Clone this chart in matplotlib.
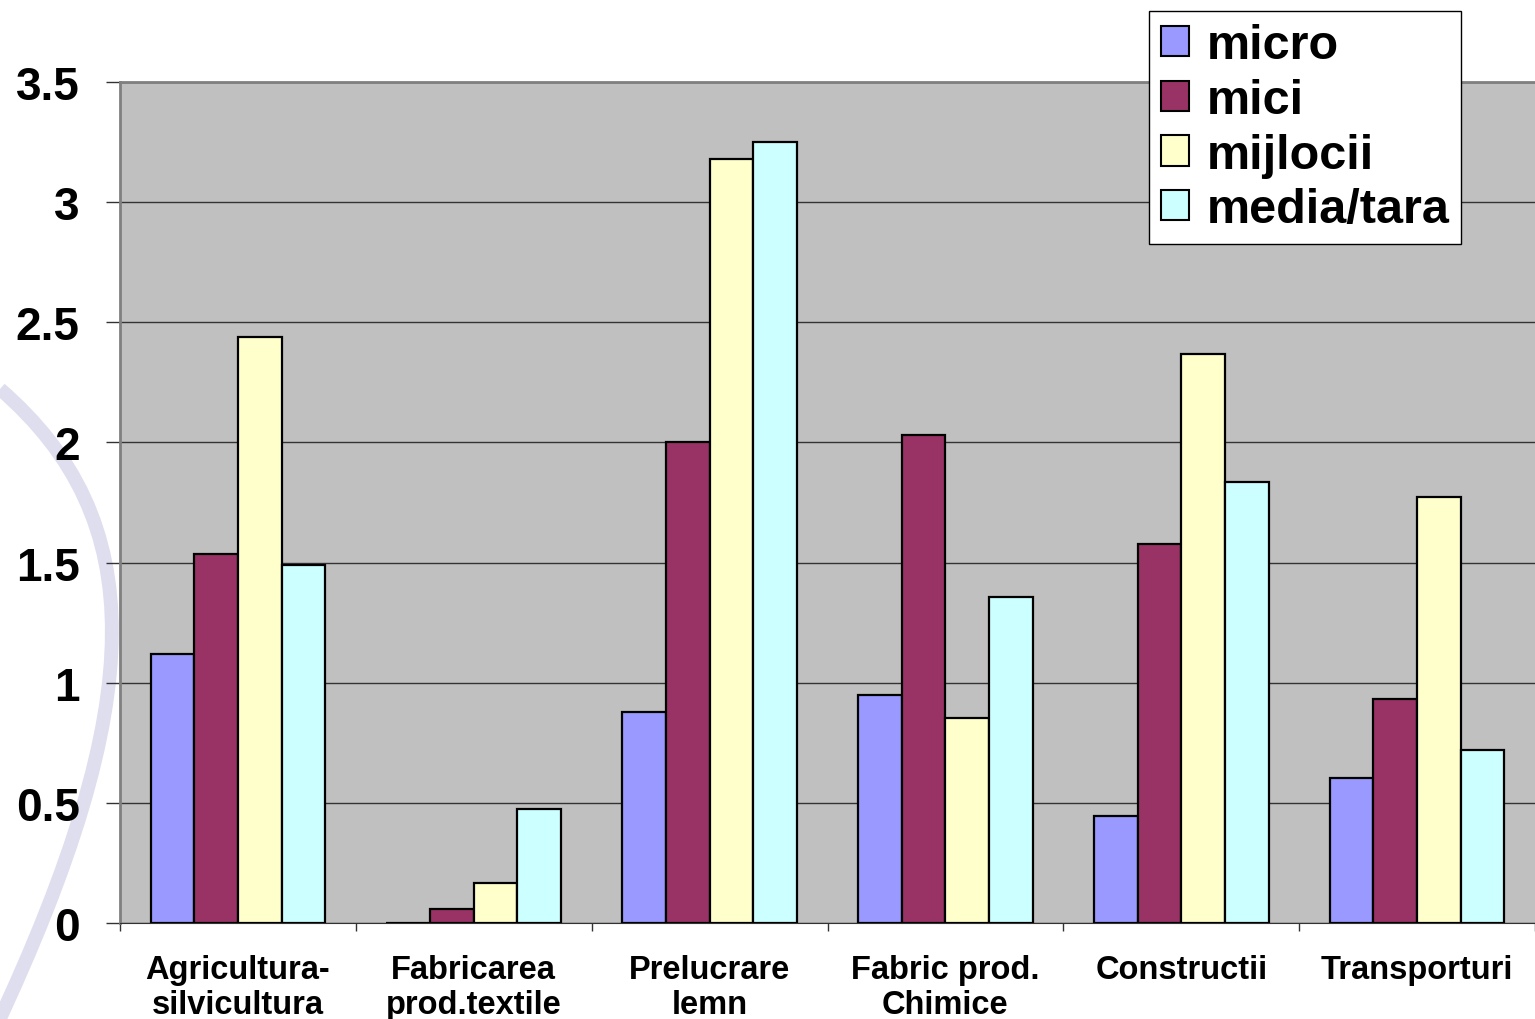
import numpy as np
import matplotlib.pyplot as plt
from matplotlib.patches import Patch, PathPatch
from matplotlib.path import Path

plt.rcParams['font.family'] = ['Liberation Sans', 'DejaVu Sans']
plt.rcParams['font.weight'] = 'bold'

# data
categories = ['Agricultura-\nsilvicultura', 'Fabricarea\nprod.textile', 'Prelucrare\nlemn',
              'Fabric prod.\nChimice', 'Constructii', 'Transporturi']
series = ['micro', 'mici', 'mijlocii', 'media/tara']
micro = [1.12, 0.0, 0.88, 0.95, 0.445, 0.605]
mici = [1.535, 0.057, 2.0, 2.03, 1.577, 0.932]
mijlocii = [2.44, 0.166, 3.18, 0.853, 2.368, 1.773]
media_tara = [1.49, 0.474, 3.25, 1.357, 1.835, 0.72]
colors = ['#9999FF', '#993366', '#FFFFCC', '#CCFFFF']

values = [micro, mici, mijlocii, media_tara]

fig = plt.figure(figsize=(15.35, 10.2), dpi=100)

# faint decorative arc from the slide background
W, H = 1535, 1020
verts = [(0, 390), (150, 520), (150, 700), (-5, 1030)]
verts = [(x / W, 1 - y / H) for x, y in verts]
arc = PathPatch(Path(verts, [Path.MOVETO, Path.CURVE4, Path.CURVE4, Path.CURVE4]),
                transform=fig.transFigure, facecolor='none', edgecolor='#DEDEEF',
                lw=10, zorder=-5)
fig.patches.append(arc)

ax = fig.add_axes([120 / W, 1 - 924 / H, 1 - 120 / W, (924 - 83) / H])
ax.set_facecolor('#C0C0C0')

x = np.arange(len(categories)) + 0.5
bw = 0.185
for i, (name, vals) in enumerate(zip(series, values)):
    ax.bar(x + (i - 1.5) * bw, vals, bw, color=colors[i], edgecolor='black',
           linewidth=1.6, label=name, zorder=3)

ax.set_xlim(0, len(categories))
ax.set_ylim(0, 3.5)
ax.set_yticks(np.arange(0, 3.51, 0.5))
ax.set_yticklabels(['0', '0.5', '1', '1.5', '2', '2.5', '3', '3.5'], fontsize=33,
                   fontweight='bold')
ax.yaxis.grid(True, color='#333333', linewidth=1.0, zorder=1)
ax.set_axisbelow(True)

ax.set_xticks(np.arange(len(categories) + 1))
ax.set_xticklabels([])
ax.set_xticks(x, minor=True)
ax.set_xticklabels(categories, minor=True, fontsize=23.5, fontweight='bold', linespacing=1.2)
ax.tick_params(axis='x', which='minor', length=0, pad=22)
ax.tick_params(axis='x', which='major', length=6, width=1, color='#333333')
ax.tick_params(axis='y', length=10, width=1, color='#333333', pad=19)

for s in ['left', 'top']:
    ax.spines[s].set_color('#808080')
    ax.spines[s].set_linewidth(2)
ax.spines['bottom'].set_color('#333333')
ax.spines['right'].set_visible(False)

handles = [Patch(facecolor=c, edgecolor='black', linewidth=1.5) for c in colors]
leg = fig.legend(handles, series, loc='upper left', bbox_to_anchor=(1149 / W, 1 - 12 / H),
                 prop={'weight': 'bold', 'size': 35}, frameon=True, fancybox=False,
                 edgecolor='black', framealpha=1, borderpad=0.25, labelspacing=0.2,
                 handlelength=0.58, handleheight=0.58, handletextpad=0.35,
                 borderaxespad=0)
leg.get_frame().set_linewidth(1.0)

fig.savefig('out.png', dpi=100)
